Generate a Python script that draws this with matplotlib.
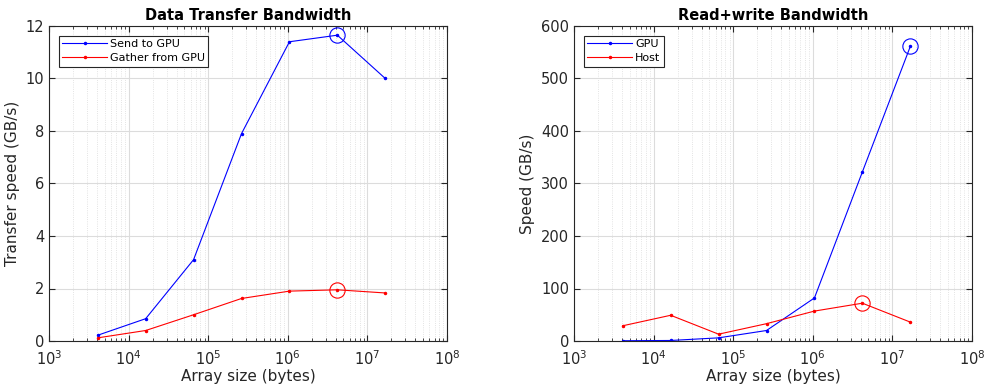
import matplotlib
matplotlib.use('Agg')
import matplotlib.pyplot as plt
import numpy as np

# array sizes (bytes)
sizes = [4096, 16384, 65536, 262144, 1048576, 4194304, 16777216]

# data transfer bandwidth (GB/s)
send_to_gpu = [0.22, 0.85, 3.1, 7.9, 11.4, 11.65, 10.0]
gather_from_gpu = [0.12, 0.40, 1.0, 1.62, 1.90, 1.95, 1.83]

# read+write bandwidth (GB/s)
gpu_rw = [0.5, 1.0, 6.0, 20.0, 82.0, 322.0, 561.0]
host_rw = [29.0, 49.0, 13.0, 33.0, 57.0, 72.0, 36.0]

plt.rcParams['font.family'] = ['DejaVu Sans']
txt = '#262626'

fig = plt.figure(figsize=(9.87, 3.85), dpi=100)
ax1 = fig.add_axes([49/987, 1 - 341/385, 398/987, 315/385])
ax2 = fig.add_axes([574/987, 1 - 341/385, 398/987, 315/385])


def style_axes(ax, ymax, ystep, title, ylabel):
    ax.set_xscale('log')
    ax.set_xlim(1e3, 1e8)
    ax.set_ylim(0, ymax)
    ax.set_yticks(np.arange(0, ymax + 1e-9, ystep))
    ax.set_xticks([1e3, 1e4, 1e5, 1e6, 1e7, 1e8])
    ax.grid(True, which='major', color='#dcdcdc', linewidth=0.8)
    ax.grid(True, which='minor', axis='x', color='#dadada', linestyle=':', linewidth=0.6)
    ax.set_axisbelow(True)
    ax.tick_params(which='both', direction='in', top=True, right=True, colors=txt,
                   labelsize=10.5, labelcolor=txt)
    ax.tick_params(which='major', length=4)
    ax.tick_params(which='minor', length=2)
    ax.tick_params(axis='x', which='major', pad=6)
    for s in ax.spines.values():
        s.set_color(txt)
        s.set_linewidth(0.8)
    ax.set_title(title, fontsize=10.5, fontweight='bold', pad=4)
    ax.set_xlabel('Array size (bytes)', fontsize=11, color=txt, labelpad=1)
    ax.set_ylabel(ylabel, fontsize=11, color=txt)


def plot_pair(ax, ya, yb, la, lb, peak_a, peak_b):
    ax.plot(sizes, ya, color='#0000ff', marker='.', markersize=3, linewidth=0.8, label=la)
    ax.plot(sizes, yb, color='#ff0000', marker='.', markersize=3, linewidth=0.8, label=lb)
    ax.plot(sizes[peak_a], ya[peak_a], marker='o', markersize=11, mfc='none', mec='#0000ff',
            markeredgewidth=0.8, linestyle='none')
    ax.plot(sizes[peak_b], yb[peak_b], marker='o', markersize=11, mfc='none', mec='#ff0000',
            markeredgewidth=0.8, linestyle='none')
    leg = ax.legend(loc='upper left', fontsize=8, fancybox=False, framealpha=1,
                    edgecolor=txt, borderpad=0.3, labelspacing=0.35, handlelength=4.0,
                    handletextpad=0.3, borderaxespad=0.9)
    leg.get_frame().set_linewidth(0.8)


style_axes(ax1, 12, 2, 'Data Transfer Bandwidth', 'Transfer speed (GB/s)')
plot_pair(ax1, send_to_gpu, gather_from_gpu, 'Send to GPU', 'Gather from GPU',
          int(np.argmax(send_to_gpu)), int(np.argmax(gather_from_gpu)))

style_axes(ax2, 600, 100, 'Read+write Bandwidth', 'Speed (GB/s)')
plot_pair(ax2, gpu_rw, host_rw, 'GPU', 'Host',
          int(np.argmax(gpu_rw)), int(np.argmax(host_rw)))

fig.savefig('out.png', dpi=100)
